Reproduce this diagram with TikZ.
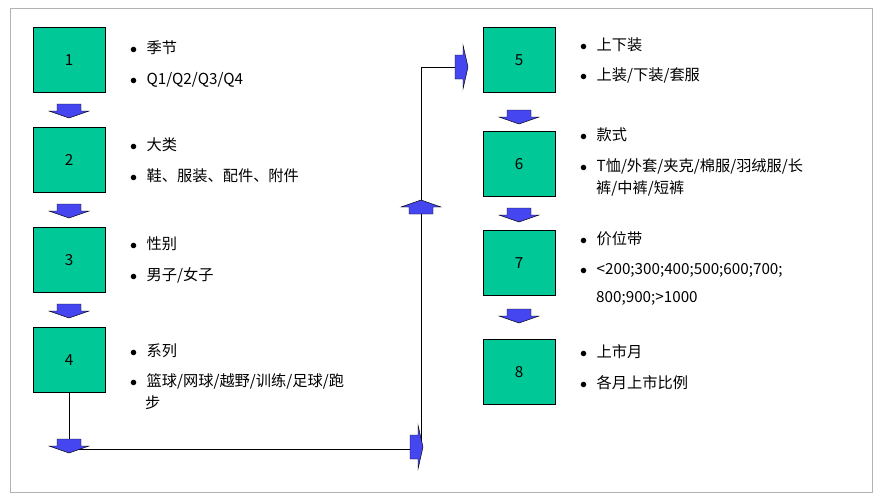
\documentclass[tikz,border=0pt]{standalone}
\usepackage{fontspec}
\setmainfont{Noto Sans CJK SC}
\usetikzlibrary{positioning}
\definecolor{boxgreen}{RGB}{0,200,150}
\definecolor{arrblue}{RGB}{70,70,240}
\begin{document}
\begin{tikzpicture}[x=0.03cm, y=-0.03cm, every node/.style={font=\fontsize{13}{17}\selectfont}]
            % Define styles
            \tikzset{
              stage/.style={rectangle, draw=black, fill=boxgreen, minimum width=2.16cm, minimum height=1.95cm, inner sep=0pt},
              item/.style={anchor=west, inner sep=0pt},
              line/.style={black, line width=0.6pt},
              blockarrow/.style={draw=black, fill=arrblue, line width=0.4pt},
              downarr/.pic={\path[blockarrow] (-12,-5) -- (12,-5) -- (12,2) -- (20,2) -- (0,9) -- (-20,2) -- (-12,2) -- cycle;},
              uparr/.pic={\path[blockarrow] (-12,5) -- (12,5) -- (12,-2) -- (20,-2) -- (0,-9) -- (-20,-2) -- (-12,-2) -- cycle;},
              rightarr/.pic={\path[blockarrow] (-6,-12) -- (2,-12) -- (2,-22) -- (7,0) -- (2,22) -- (2,12) -- (-6,12) -- cycle;}
            }
            \useasboundingbox (0,0) rectangle (881,500);
            \draw[gray!60] (10,8) rectangle (872,492);

            % Left column
            \node (s1) [stage] at (69,60) {1};
            \node (s2) [stage] at (69,160) {2};
            \node (s3) [stage] at (69,260) {3};
            \node (s4) [stage] at (69,360) {4};
            % Right column
            \node (s5) [stage] at (519,60) {5};
            \node (s6) [stage] at (519,164) {6};
            \node (s7) [stage] at (519,263) {7};
            \node (s8) [stage] at (519,372) {8};

            % Arrows between stages
            \pic at (69,109) {downarr};
            \pic at (69,209) {downarr};
            \pic at (69,309) {downarr};
            \pic at (519,115) {downarr};
            \pic at (519,213) {downarr};
            \pic at (519,314) {downarr};

            % Connector from 4 to 5
            \coordinate (drop) at (69,446);
            \coordinate (turn) at (421,449);
            \coordinate (top) at (421,67);
            \coordinate (enter) at (455,67);
            \draw[line] (s4.south) -- (drop);
            \draw[line] (69,449) -- (turn) -- (top) -- (enter);
            \pic at (69,444) {downarr};
            \pic at (416,447) {rightarr};
            \pic at (421,209) {uparr};
            \pic at (461,67) {rightarr};

            % Left texts
            \node (t1a) [item] at (130,48) {$\bullet$\hspace{8pt}季节};
            \node (t1b) [item] at (130,80) {$\bullet$\hspace{8pt}Q1/Q2/Q3/Q4};
            \node (t2a) [item] at (130,145) {$\bullet$\hspace{8pt}大类};
            \node (t2b) [item] at (130,176) {$\bullet$\hspace{8pt}鞋、服装、配件、附件};
            \node (t3a) [item] at (130,244) {$\bullet$\hspace{8pt}性别};
            \node (t3b) [item] at (130,275) {$\bullet$\hspace{8pt}男子/女子};
            \node (t4a) [item] at (130,351) {$\bullet$\hspace{8pt}系列};
            \node (t4b) [item] at (130,381) {$\bullet$\hspace{8pt}篮球/网球/越野/训练/足球/跑};
            \node (t4c) [item] at (145,403) {步};
            % Right texts
            \node (t5a) [item] at (580,45) {$\bullet$\hspace{8pt}上下装};
            \node (t5b) [item] at (580,75) {$\bullet$\hspace{8pt}上装/下装/套服};
            \node (t6a) [item] at (580,135) {$\bullet$\hspace{8pt}款式};
            \node (t6b) [item] at (580,166) {$\bullet$\hspace{8pt}T恤/外套/夹克/棉服/羽绒服/长};
            \node (t6c) [item] at (596,188) {裤/中裤/短裤};
            \node (t7a) [item] at (580,239) {$\bullet$\hspace{8pt}价位带};
            \node (t7b) [item] at (580,270) {$\bullet$\hspace{8pt}<200;300;400;500;600;700;};
            \node (t7c) [item] at (596,298) {800;900;>1000};
            \node (t8a) [item] at (580,352) {$\bullet$\hspace{8pt}上市月};
            \node (t8b) [item] at (580,383) {$\bullet$\hspace{8pt}各月上市比例};
\end{tikzpicture}
\end{document}
